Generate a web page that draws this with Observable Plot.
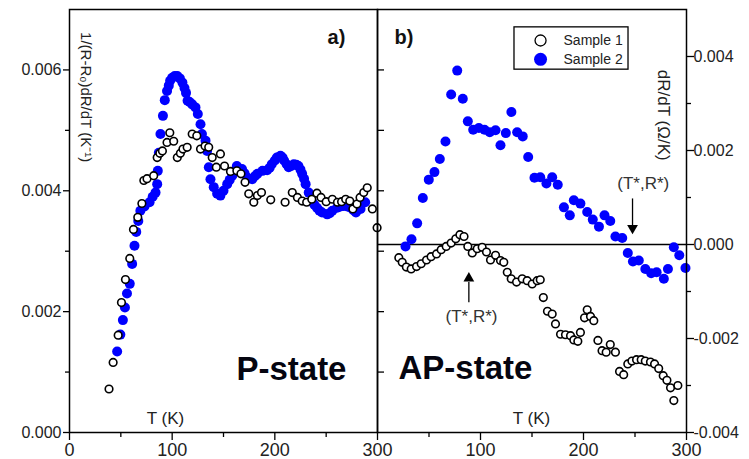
<!DOCTYPE html>
<html><head><meta charset="utf-8">
<script src="https://cdn.jsdelivr.net/npm/d3@7"></script>
<script src="https://cdn.jsdelivr.net/npm/@observablehq/plot@0.6"></script>
<style>
body{margin:0;background:#fff;}
#wrap{position:relative;width:749px;height:459px;overflow:hidden;background:#fff;}
#wrap svg{position:absolute;left:0;top:0;}
</style></head><body><div id="wrap"></div>
<script>
// ---- Panel a) P-state: 1/(R-R0) dR/dT (K^-1) ----
const pS1_T = [38.5,42.5,47.4,50.6,54.5,58.7,62.3,66.5,70.5,72.4,75.5,82,85.4,88,90.5,95,97.7,101.5,105,108,110.5,114.6,119.5,124,127.6,132,135.6,139,143,147,151,156.8,163,167,171,174.6,179.5,183,187,196,210,217,222,226.6,231,236,241,245,250,256,261,265,269,273,276,280,283,286.6,290,295,299.6];
const pS1_v = [0.00072,0.00116,0.00161,0.00215,0.00253,0.00288,0.00336,0.00356,0.00379,0.00417,0.00420,0.00425,0.00455,0.00462,0.00466,0.00480,0.00496,0.00482,0.00455,0.00462,0.00469,0.00472,0.00494,0.00491,0.00469,0.00474,0.00472,0.00455,0.00439,0.00461,0.00441,0.00432,0.00433,0.00428,0.00414,0.00395,0.00381,0.00392,0.00397,0.00385,0.00381,0.00397,0.00389,0.00383,0.00381,0.00386,0.00396,0.00389,0.00382,0.00386,0.00381,0.00382,0.00386,0.00383,0.00370,0.00378,0.00389,0.00397,0.00405,0.00370,0.00339];
const pS2_T = [46.4,49.5,52,54,56,58.7,61,63.3,65,67,69,73,78,81,83.8,85.4,86,87,88.6,91,92.8,95,96.7,98,100,102.5,105,107.5,110,112,113.5,115,117,119.5,122.7,125,127.6,129,132.5,134,135.7,137.3,140.5,143.8,147,150,153.6,156,158.5,161,163,168,170.5,173,178,180.5,183,188,192.5,195,197,200,202,205.5,207.5,209,211.5,213.5,216,218.5,221,223,225,226.6,228.5,230,233,236,238.5,241,243.5,246,251,253.5,256,260.7,264,267,270.5,274,276.5,279,283.5,288];
const pS2_v = [0.00134,0.00162,0.00186,0.00207,0.00230,0.00246,0.00279,0.00309,0.00332,0.00350,0.00367,0.00374,0.00381,0.00390,0.00397,0.00411,0.00433,0.00463,0.00494,0.00524,0.00550,0.00565,0.00574,0.00582,0.00587,0.00590,0.00590,0.00586,0.00579,0.00570,0.00562,0.00549,0.00547,0.00543,0.00538,0.00527,0.00510,0.00494,0.00483,0.00466,0.00439,0.00419,0.00406,0.00395,0.00392,0.00400,0.00411,0.00418,0.00425,0.00433,0.00441,0.00436,0.00429,0.00422,0.00419,0.00424,0.00428,0.00433,0.00434,0.00438,0.00444,0.00450,0.00455,0.00458,0.00455,0.00450,0.00444,0.00439,0.00441,0.00444,0.00443,0.00441,0.00435,0.00428,0.00420,0.00411,0.00397,0.00383,0.00377,0.00372,0.00367,0.00364,0.00361,0.00363,0.00367,0.00372,0.00374,0.00375,0.00374,0.00372,0.00368,0.00364,0.00370,0.00381];

// ---- Panel b) AP-state: dR/dT (Ohm/K) ----
const apS1_T = [20.7,24,28,32.7,37.9,42.4,47.6,52,57.3,61.8,66.7,71.5,76,80,84,87.7,92,96.8,101.6,105.8,109.7,114.6,119.4,122.6,126,129.8,135,140.5,145.3,150.2,155,158,161,165,169.6,172.8,177.7,182.5,187.4,190.6,194.5,197,201,203.6,206.8,210,214,218,222,226,231,235,239,243,247,251.5,256,260,265,269,273,277.4,281,284.5,287.7,291.6];
const apS1_v = [-0.00028,-0.00038,-0.00048,-0.00052,-0.00047,-0.00041,-0.00033,-0.00026,-0.00020,-0.00011,-0.00004,0.00003,0.00012,0.00021,0.00017,-0.00004,-0.00018,-0.00009,-0.00006,-0.00016,-0.00033,-0.00023,-0.00034,-0.00038,-0.00059,-0.00073,-0.00080,-0.00073,-0.00077,-0.00084,-0.00077,-0.00075,-0.00113,-0.00142,-0.00148,-0.00169,-0.00191,-0.00192,-0.00194,-0.00203,-0.00206,-0.00187,-0.00156,-0.00139,-0.00153,-0.00162,-0.00204,-0.00226,-0.00229,-0.00213,-0.00229,-0.00270,-0.00277,-0.00254,-0.00248,-0.00245,-0.00245,-0.00248,-0.00250,-0.00254,-0.00264,-0.00279,-0.00289,-0.00305,-0.00332,-0.00300];
const apS2_T = [27.2,33,38.5,44,49.8,55.3,60.5,66,71.5,77.4,82.8,87.7,92.9,98.4,103.9,109,114.6,119.4,124.6,130,135.6,141,146.3,152.4,158,164,169.6,175,181,186.7,190.6,197,203.6,209,215,220.4,226,231,237.6,243,248,253.7,260,265.7,271,278,282,287.7,293,299];
const apS2_v = [-0.00004,0.00011,0.00045,0.00099,0.00138,0.00154,0.00182,0.00219,0.00319,0.00370,0.00310,0.00262,0.00244,0.00248,0.00244,0.00239,0.00243,0.00211,0.00237,0.00282,0.00239,0.00230,0.00186,0.00142,0.00143,0.00130,0.00143,0.00127,0.00079,0.00062,0.00094,0.00087,0.00069,0.00053,0.00038,0.00062,0.00050,0.00017,0.00014,-0.00018,-0.00036,-0.00034,-0.00052,-0.00061,-0.00059,-0.00073,-0.00052,-0.00006,-0.00023,-0.00050];

// ---- ticks / labels ----
const xTicksA = [0,100,200,300];
const xTicksB = [100,200,300];
const xMinor = [50,150,250];
const yTicksA = [0,0.002,0.004,0.006];
const yMinorA = [0.001,0.003,0.005];
const yTicksB = [-0.004,-0.002,0,0.002,0.004];
const yMinorB = [-0.003,-0.001,0.001,0.003];
const seriesNames = ["Sample 1","Sample 2"];

const toRows = (T, v) => T.map((t, i) => ({T: t, v: v[i]}));
const font = "'Liberation Sans', Arial, sans-serif";
const W = 749, H = 459;
const BLUE = "#0000ff";
const txt = (s, o) => Plot.text([s], {text: d => d, fontFamily: font, ...o});

const common = {width: W, height: H, marginTop: 9, marginBottom: 27,
  style: {fontFamily: font, fontSize: "16px", color: "#222", background: "transparent", overflow: "visible"}};

const plotA = Plot.plot({
  ...common, marginLeft: 69, marginRight: 372,
  x: {domain: [0, 300], label: null}, y: {domain: [0, 0.007], label: null},
  marks: [
    Plot.axisX(xTicksA, {tickSize: 8, tickPadding: 3, fontSize: 18, stroke: "#000", strokeWidth: 1.3, fill: "#222", tickFormat: d => String(d), label: null}),
    Plot.axisX(xMinor, {tickSize: 5, stroke: "#000", strokeWidth: 1.3, tickFormat: () => "", label: null}),
    Plot.axisY(yTicksA, {tickSize: 6, tickPadding: 2, fontSize: 16, stroke: "#000", strokeWidth: 1.3, fill: "#222", tickFormat: d => d.toFixed(3), label: null}),
    Plot.axisY(yMinorA, {tickSize: 4, stroke: "#000", strokeWidth: 1.3, tickFormat: () => "", label: null}),
    Plot.axisY([...yTicksA.slice(1), ...yMinorA], {anchor: "right", tickSize: 6, stroke: "#000", strokeWidth: 1.3, tickFormat: () => "", label: null}),
    Plot.dot(toRows(pS2_T, pS2_v), {x: "T", y: "v", r: 5, fill: BLUE}),
    Plot.dot(toRows(pS1_T, pS1_v), {x: "T", y: "v", r: 3.8, fill: "#fff", stroke: "#000", strokeWidth: 1.6}),
    txt("1/(R-R\u2080)dR/dT (K\u207B\u00B9)", {x: 15.6, y: 0.00555, rotate: 90, fontSize: 15, fill: "#222"}),
    txt("a)", {x: 260, y: 0.00653, fontSize: 20, fontWeight: "bold", fill: "#111"}),
    txt("P-state", {x: 162.6, y: 0.000876, textAnchor: "start", lineAnchor: "bottom", fontSize: 33, fontWeight: "bold", fill: "#050510"}),
    txt("T (K)", {x: 93.5, y: 0.00023, fontSize: 17, fill: "#222"}),
    Plot.frame({stroke: "#000", strokeWidth: 1.5})
  ]
});

const plotB = Plot.plot({
  ...common, marginLeft: 377, marginRight: 63,
  x: {domain: [0, 300], label: null}, y: {domain: [-0.004, 0.005], label: null},
  marks: [
    Plot.axisX(xTicksB, {tickSize: 8, tickPadding: 3, fontSize: 18, stroke: "#000", strokeWidth: 1.3, fill: "#222", tickFormat: d => String(d), label: null}),
    Plot.axisX(xMinor, {tickSize: 5, stroke: "#000", strokeWidth: 1.3, tickFormat: () => "", label: null}),
    Plot.axisY(yTicksB, {anchor: "right", tickSize: 7, tickPadding: 0, fontSize: 16, stroke: "#000", strokeWidth: 1.3, fill: "#222", tickFormat: d => d.toFixed(3), label: null}),
    Plot.axisY(yMinorB, {anchor: "right", tickSize: 4, stroke: "#000", strokeWidth: 1.3, tickFormat: () => "", label: null}),
    Plot.ruleY([0], {stroke: "#000", strokeWidth: 1.3}),
    Plot.dot(toRows(apS2_T, apS2_v), {x: "T", y: "v", r: 5, fill: BLUE}),
    Plot.dot(toRows(apS1_T, apS1_v), {x: "T", y: "v", r: 3.8, fill: "#fff", stroke: "#000", strokeWidth: 1.6}),
    // legend
    Plot.rect([0], {x1: 133, x2: 243.7, y1: 0.00372, y2: 0.00462, fill: "#fff", stroke: "#000", strokeWidth: 1.3}),
    Plot.dot([0], {x: 158.3, y: 0.00434, r: 5.5, fill: "#fff", stroke: "#000", strokeWidth: 1.3}),
    Plot.dot([0], {x: 158.3, y: 0.00394, r: 6.5, fill: BLUE}),
    txt(seriesNames[0], {x: 180.6, y: 0.00434, textAnchor: "start", fontSize: 14, fill: "#222"}),
    txt(seriesNames[1], {x: 180.6, y: 0.00394, textAnchor: "start", fontSize: 14, fill: "#222"}),
    // annotations
    Plot.link([0], {x1: 247.6, x2: 247.6, y1: 0.00098, y2: 0.0004, stroke: "#000", strokeWidth: 1.3}),
    Plot.dot([0], {x: 247.6, y: 0.00035, symbol: "triangle", rotate: 180, r: 4, fill: "#000"}),
    txt("(T*,R*)", {x: 258, y: 0.0013, fontSize: 17, fill: "#333"}),
    Plot.link([0], {x1: 88.7, x2: 88.7, y1: -0.00123, y2: -0.0008, stroke: "#000", strokeWidth: 1.3}),
    Plot.dot([0], {x: 88.7, y: -0.00072, symbol: "triangle", r: 4, fill: "#000"}),
    txt("(T*,R*)", {x: 91.3, y: -0.00153, fontSize: 17, fill: "#333"}),
    txt("dR/dT (\u03A9/K)", {x: 277.7, y: 0.00275, rotate: 90, fontSize: 17, fill: "#222"}),
    txt("b)", {x: 25.7, y: 0.0044, fontSize: 20, fontWeight: "bold", fill: "#111"}),
    txt("AP-state", {x: 20.4, y: -0.00287, textAnchor: "start", lineAnchor: "bottom", fontSize: 33, fontWeight: "bold", fill: "#050510"}),
    txt("T (K)", {x: 149.5, y: -0.0037, fontSize: 17, fill: "#222"}),
    Plot.frame({stroke: "#000", strokeWidth: 1.5})
  ]
});

const wrap = document.getElementById("wrap");
wrap.appendChild(plotA);
wrap.appendChild(plotB);
</script></body></html>
